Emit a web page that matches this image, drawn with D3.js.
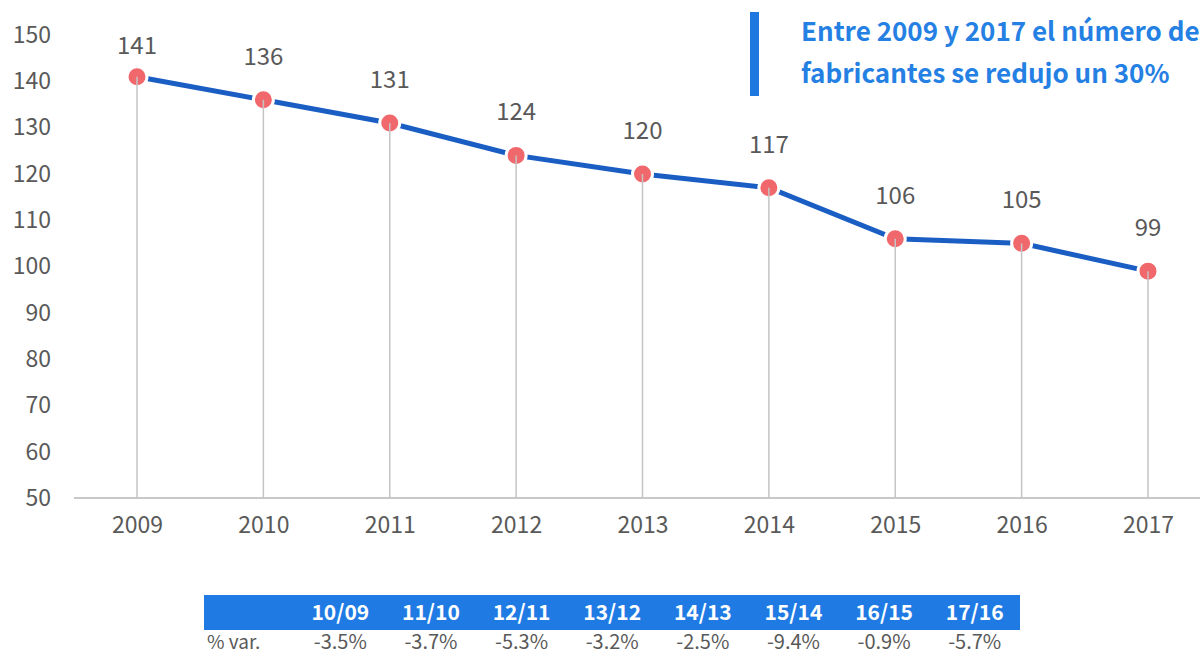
<!DOCTYPE html>
<html lang="es">
<head>
    <meta charset="UTF-8">
    <title>Fabricantes</title>
    <script src="https://cdn.jsdelivr.net/npm/d3@7"></script>
    <style>
        body {
            margin: 0;
            padding: 0;
            background: #fff;
            overflow: hidden;
        }
        text {
            font-family: "Noto Sans CJK JP", "Noto Sans", sans-serif;
        }
    </style>
</head>
<body>
<svg width="1200" height="656" id="mainsvg"></svg>
<script>
    const years = ["2009", "2010", "2011", "2012", "2013", "2014", "2015", "2016", "2017"];
    const values = [141, 136, 131, 124, 120, 117, 106, 105, 99];
    const yTicks = [50, 60, 70, 80, 90, 100, 110, 120, 130, 140, 150];
    const periods = ["10/09", "11/10", "12/11", "13/12", "14/13", "15/14", "16/15", "17/16"];
    const changes = ["-3.5%", "-3.7%", "-5.3%", "-3.2%", "-2.5%", "-9.4%", "-0.9%", "-5.7%"];
    const noteLines = ["Entre 2009 y 2017 el número de", "fabricantes se redujo un 30%"];

    const textGrey = "#595959";
    const svg = d3.select("#mainsvg");

    const x = d3.scalePoint().domain(years).range([137, 1148]);
    const y = d3.scaleLinear().domain([50, 150]).range([498, 35]);

    // y tick labels (no axis line)
    const yAxis = svg.append("g")
        .attr("transform", "translate(51,0)")
        .call(d3.axisLeft(y).tickValues(yTicks).tickSize(0).tickPadding(0));
    yAxis.select(".domain").remove();
    yAxis.selectAll("text")
        .attr("font-size", 23)
        .attr("fill", textGrey)
        .attr("font-family", "'Noto Sans CJK JP', sans-serif");

    // baseline
    svg.append("line")
        .attr("x1", 74).attr("x2", 1200)
        .attr("y1", y(50)).attr("y2", y(50))
        .attr("stroke", "#c8c8c8").attr("stroke-width", 2);

    // x labels
    const xAxis = svg.append("g")
        .attr("transform", "translate(0," + y(50) + ")")
        .call(d3.axisBottom(x).tickSize(0).tickPadding(19));
    xAxis.select(".domain").remove();
    xAxis.selectAll("text")
        .attr("font-size", 23)
        .attr("fill", textGrey)
        .attr("font-family", "'Noto Sans CJK JP', sans-serif");

    const pts = years.map((d, i) => ({year: d, value: values[i]}));

    // line
    svg.append("path")
        .datum(pts)
        .attr("fill", "none")
        .attr("stroke", "#1a5ec4")
        .attr("stroke-width", 5)
        .attr("d", d3.line().x(d => x(d.year)).y(d => y(d.value)));

    // markers
    svg.selectAll(".dot")
        .data(pts)
        .join("circle")
        .attr("class", "dot")
        .attr("cx", d => x(d.year))
        .attr("cy", d => y(d.value))
        .attr("r", 10)
        .attr("fill", "#f0686c")
        .attr("stroke", "#fff")
        .attr("stroke-width", 3);

    // drop lines
    svg.selectAll(".drop")
        .data(pts)
        .join("line")
        .attr("class", "drop")
        .attr("x1", d => x(d.year)).attr("x2", d => x(d.year))
        .attr("y1", d => y(d.value)).attr("y2", y(50))
        .attr("stroke", "#c4c4c4")
        .attr("stroke-width", 1.5);

    // value labels
    svg.selectAll(".val")
        .data(pts)
        .join("text")
        .attr("class", "val")
        .attr("x", d => x(d.year))
        .attr("y", d => Math.max(y(d.value) - 35, 54))
        .attr("text-anchor", "middle")
        .attr("font-size", 24)
        .attr("fill", textGrey)
        .text(d => d.value);

    // annotation
    svg.append("rect")
        .attr("x", 750).attr("y", 12)
        .attr("width", 9).attr("height", 84)
        .attr("fill", "#1f78e0");
    svg.selectAll(".note")
        .data(noteLines)
        .join("text")
        .attr("class", "note")
        .attr("x", 801)
        .attr("y", (d, i) => 41 + i * 42)
        .attr("font-size", 26)
        .attr("font-weight", "bold")
        .attr("fill", "#2580e4")
        .text(d => d);

    // variation table
    const tx = d3.scaleBand().domain(periods).range([295, 1020]);
    svg.append("rect")
        .attr("x", 204).attr("y", 595)
        .attr("width", 1020 - 204).attr("height", 35)
        .attr("fill", "#1f7be3");
    svg.selectAll(".period")
        .data(periods)
        .join("text")
        .attr("class", "period")
        .attr("x", d => tx(d) + tx.bandwidth() / 2)
        .attr("y", 620)
        .attr("text-anchor", "middle")
        .attr("font-size", 21)
        .attr("font-weight", "bold")
        .attr("fill", "#fff")
        .text(d => d);
    svg.append("text")
        .attr("x", 207).attr("y", 649)
        .attr("font-size", 19)
        .attr("fill", textGrey)
        .text("% var.");
    svg.selectAll(".chg")
        .data(changes)
        .join("text")
        .attr("class", "chg")
        .attr("x", (d, i) => tx(periods[i]) + tx.bandwidth() / 2)
        .attr("y", 649)
        .attr("text-anchor", "middle")
        .attr("font-size", 20)
        .attr("fill", textGrey)
        .text(d => d);
</script>
</body>
</html>
